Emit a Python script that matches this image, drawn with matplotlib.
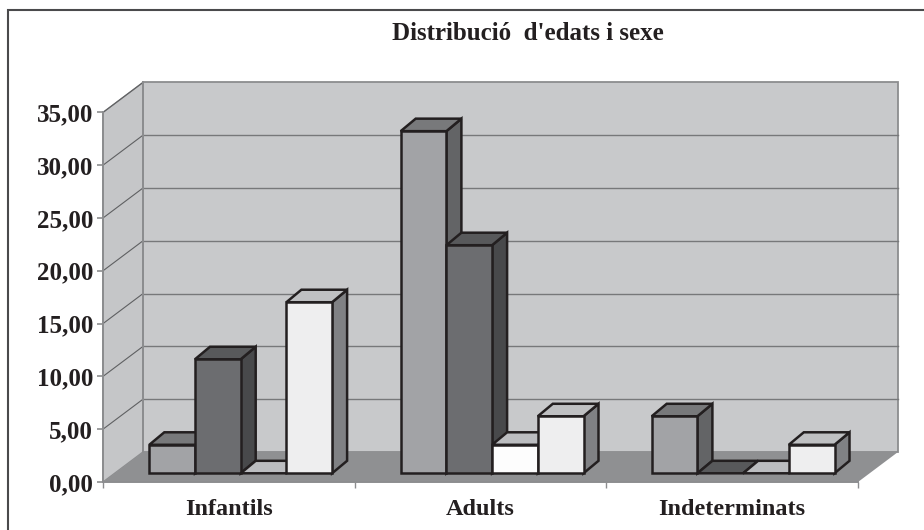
import matplotlib
matplotlib.use('Agg')
import matplotlib.pyplot as plt
from matplotlib.lines import Line2D
from matplotlib.patches import Polygon, Rectangle

categories = ['Infantils', 'Adults', 'Indeterminats']
serie1 = [2.7, 32.4, 5.4]
serie2 = [10.8, 21.6, 0.0]
serie3 = [0.0, 2.7, 0.0]
serie4 = [16.2, 5.4, 2.7]
yticks = [0, 5, 10, 15, 20, 25, 30, 35]
ylabels = ['0,00', '5,00', '10,00', '15,00', '20,00', '25,00', '30,00', '35,00']

# colours per series: front, top, side
front_cols = ['#a2a3a6', '#6c6d70', '#fdfdfd', '#eeeeef']
top_cols = ['#78797b', '#58595b', '#bcbdc0', '#bfc0c2']
side_cols = ['#636466', '#48494b', '#808184', '#808184']

W, H = 924, 530
LEFT, RIGHT, BOTTOM, TOP = 103, 858, 482, 112.4

plt.rcParams['font.family'] = ['Liberation Serif', 'DejaVu Serif']
plt.rcParams['font.weight'] = 'bold'

fig = plt.figure(figsize=(W / 100, H / 100), dpi=100)
ax = fig.add_axes([LEFT / W, 1 - BOTTOM / H, (RIGHT - LEFT) / W, (BOTTOM - TOP) / H])
ax.set_xlim(0, 3)
ax.set_ylim(0, 35)
ax.patch.set_visible(False)

# pixel sizes expressed in data units
px = 3 / (RIGHT - LEFT)
py = 35 / (BOTTOM - TOP)


def poly(pts, fc, ec='none', lw=0, z=1):
    ax.add_patch(Polygon(pts, closed=True, fc=fc, ec=ec, lw=lw, zorder=z,
                         clip_on=False, joinstyle='miter'))


# walls and floor
wx = 40 * px
wy = 30 * py
wall = '#c8c9cb'
grid = '#77787a'
edge = '#8c8d8f'
poly([(wx, wy), (3 + wx, wy), (3 + wx, 35 + wy), (wx, 35 + wy)], wall, edge, 1.3)
poly([(0, 0), (wx, wy), (wx, 35 + wy), (0, 35)], '#c5c6c8', edge, 1.0)
poly([(0, 0), (3, 0), (3 + wx, wy), (wx, wy)], '#8f9092')
for v in yticks:
    if v > 0 and v < 35:
        ax.plot([wx, 3 + wx], [v + wy, v + wy], color=grid, lw=1.0, zorder=1.5, clip_on=False)
    if v > 0:
        ax.plot([0, wx], [v, v + wy], color='#5f6062', lw=0.8, zorder=1.5, clip_on=False)
ax.plot([wx, wx], [wy, 35 + wy], color=edge, lw=1.4, zorder=1.6, clip_on=False)

# bars
all_series = [serie1, serie2, serie3, serie4]
bar_w = 45.7 * px
group_x = [46.3 * px, 297.7 * px, 548.7 * px]
base = 8.7 * py
ddx = 15 * px
ddy = 12.5 * py
black = '#231f20'
for g in range(len(categories)):
    for s in range(len(all_series)):
        val = all_series[s][g]
        x0 = group_x[g] + s * bar_w
        x1 = x0 + bar_w
        y0 = base
        y1 = base + val
        poly([(x1, y0), (x1 + ddx, y0 + ddy), (x1 + ddx, y1 + ddy), (x1, y1)],
             side_cols[s], black, 1.8, 3 + g * 4 + s * 0.1)
        poly([(x0, y1), (x1, y1), (x1 + ddx, y1 + ddy), (x0 + ddx, y1 + ddy)],
             top_cols[s], black, 1.8, 3 + g * 4 + s * 0.1)
        if val > 0:
            ax.add_patch(Rectangle((x0, y0), bar_w, val, fc=front_cols[s], ec=black, lw=1.8,
                                   zorder=3 + g * 4 + s * 0.1, clip_on=False))

for sp in ['top', 'right']:
    ax.spines[sp].set_visible(False)
for sp in ['left', 'bottom']:
    ax.spines[sp].set_color(edge)
    ax.spines[sp].set_linewidth(1.4)
    ax.spines[sp].set_zorder(2)

ax.set_yticks(yticks)
ax.set_yticklabels(ylabels, fontsize=18, color='#231f20')
ax.tick_params(axis='y', length=4, width=1.2, color=edge, pad=3.2)
ax.set_xticks([0.5, 1.5, 2.5])
ax.set_xticklabels(categories, fontsize=17.5, color='#231f20')
ax.set_xticks([0, 1, 2, 3], minor=True)
ax.tick_params(axis='x', which='major', length=0, pad=12.5)
ax.tick_params(axis='x', which='minor', length=4, width=1, color=edge)

fig.text(528 / W, 1 - 34 / H, "Distribució  d'edats i sexe", ha='center', va='center',
         fontsize=18, color='#231f20')

# frame: only the top and left lines show in the crop
fig.add_artist(Line2D([8 / W, 8 / W, 1], [0, 1 - 10 / H, 1 - 10 / H], transform=fig.transFigure,
                      color='#4a4a4c', lw=1.5, solid_joinstyle='miter'))

fig.savefig('out.png', dpi=100, facecolor='white')
